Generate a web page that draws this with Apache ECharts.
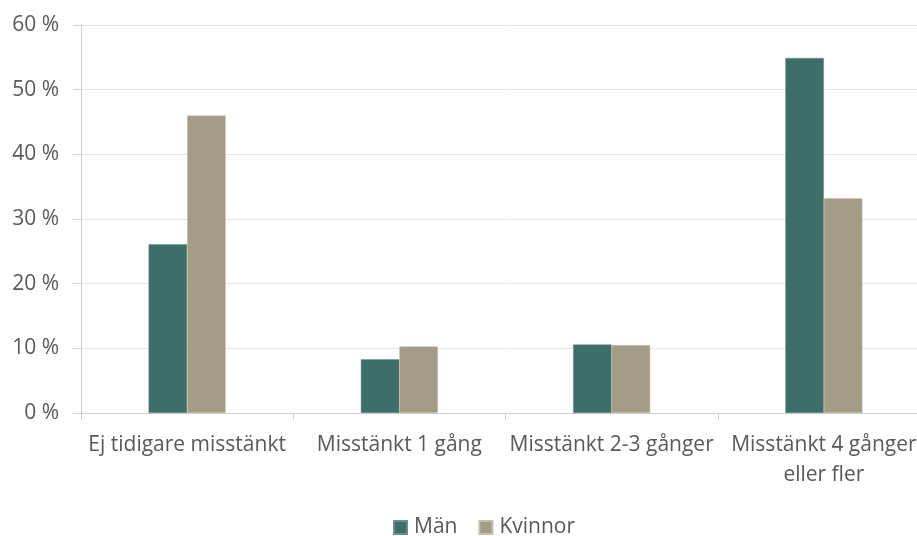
<!DOCTYPE html>
<html>
<head>
<meta charset="utf-8">
<script src="https://cdn.jsdelivr.net/npm/echarts@6/dist/echarts.min.js"></script>
<style>
html,body{margin:0;padding:0;background:#fff;overflow:hidden;width:917px;height:536px;}
#chart{width:935px;height:536px;}
</style>
</head>
<body>
<div id="chart"></div>
<script>
const categories = ["Ej tidigare misstänkt", "Misstänkt 1 gång", "Misstänkt 2-3 gånger", "Misstänkt 4 gånger\neller fler"];
const seriesNames = ["Män", "Kvinnor"];
const man = [26.1, 8.3, 10.6, 54.9];
const kvinnor = [46.0, 10.3, 10.5, 33.2];
const yTicks = [0, 10, 20, 30, 40, 50, 60];

const font = "'Open Sans', 'Liberation Sans', sans-serif";
const chart = echarts.init(document.getElementById('chart'), null, {renderer: 'canvas'});
chart.setOption({
  animation: false,
  backgroundColor: '#ffffff',
  textStyle: {fontFamily: font},
  legend: {
    data: seriesNames,
    left: 393,
    top: 517,
    padding: 0,
    itemWidth: 13,
    itemHeight: 13,
    itemGap: 21,
    icon: 'rect',
    textStyle: {fontSize: 21, lineHeight: 20, color: '#595959', fontFamily: font, padding: [0, 0, 0, 2]}
  },
  grid: {left: 81, top: 25, width: 849, height: 388, containLabel: false},
  xAxis: {
    type: 'category',
    data: categories,
    axisLine: {lineStyle: {color: '#d0d0d0', width: 1}},
    axisTick: {show: true, length: 7, lineStyle: {color: '#d0d0d0'}},
    axisLabel: {fontSize: 21, color: '#595959', margin: 17, lineHeight: 30, fontFamily: font, interval: 0}
  },
  yAxis: {
    type: 'value',
    min: yTicks[0],
    max: yTicks[yTicks.length - 1],
    interval: 10,
    axisLine: {show: true, lineStyle: {color: '#d0d0d0'}},
    axisTick: {show: true, length: 8, lineStyle: {color: '#d0d0d0'}},
    splitLine: {lineStyle: {color: '#e6e6e6'}},
    axisLabel: {fontSize: 21, color: '#595959', margin: 22, fontFamily: font, formatter: v => v + ' %'}
  },
  series: [
    {name: seriesNames[0], type: 'bar', data: man, barGap: '0%', barCategoryGap: '63.7%',
     itemStyle: {color: '#3d6e6a', borderColor: '#6a8f8b', borderWidth: 0.5}},
    {name: seriesNames[1], type: 'bar', data: kvinnor,
     itemStyle: {color: '#a39c87', borderColor: '#c4bfae', borderWidth: 0.5}}
  ]
});
</script>
</body>
</html>
